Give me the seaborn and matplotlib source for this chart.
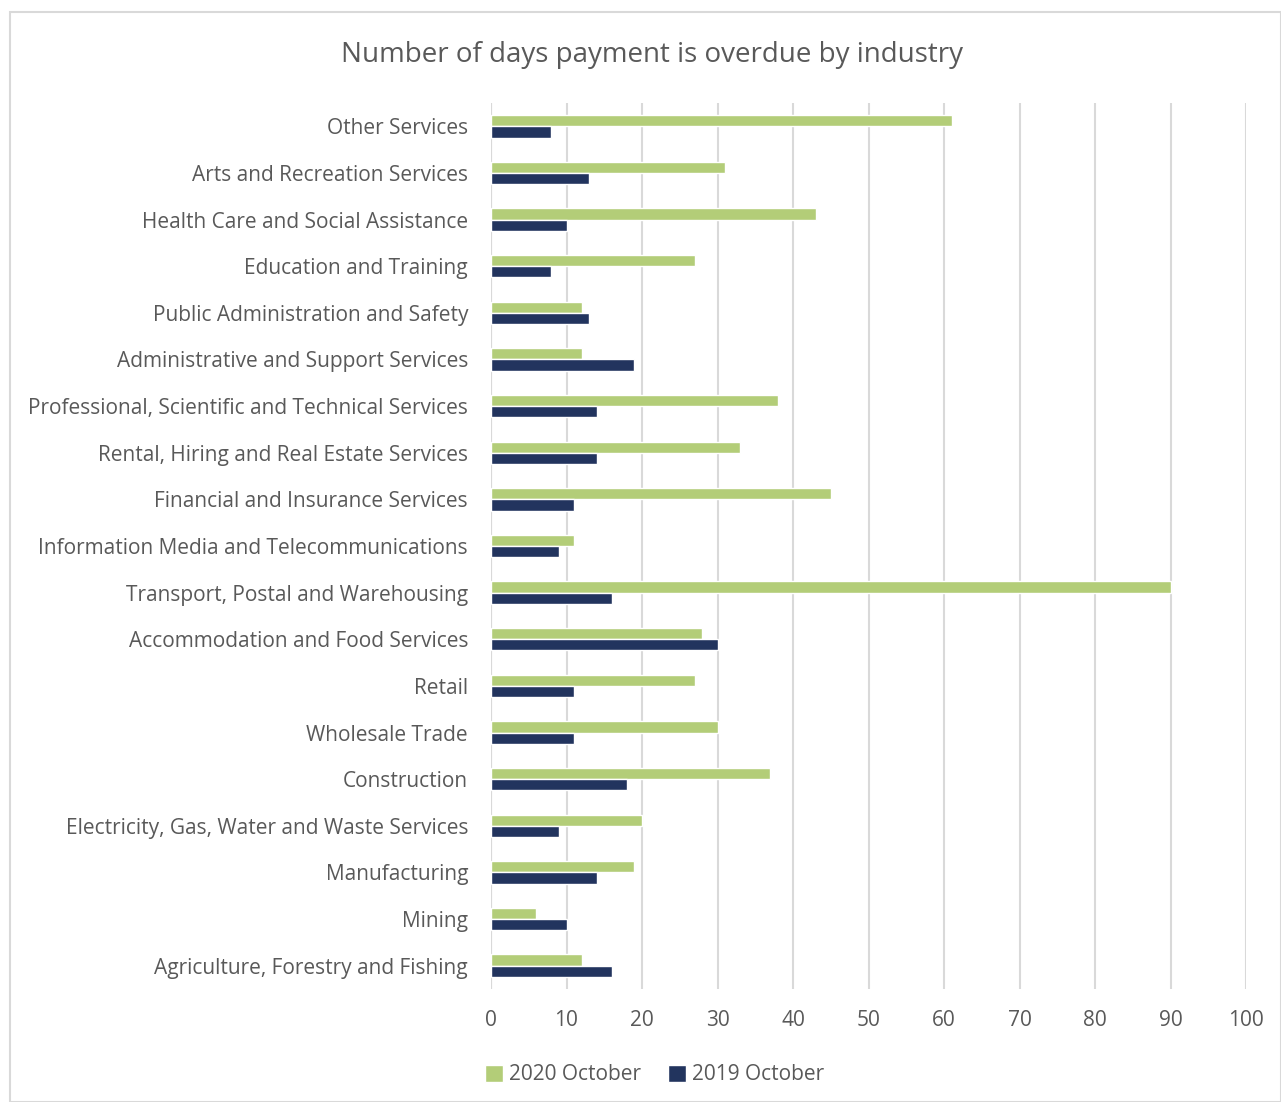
import matplotlib
matplotlib.use("Agg")
import matplotlib.pyplot as plt
import pandas as pd
import seaborn as sns

industries = [
    "Other Services",
    "Arts and Recreation Services",
    "Health Care and Social Assistance",
    "Education and Training",
    "Public Administration and Safety",
    "Administrative and Support Services",
    "Professional, Scientific and Technical Services",
    "Rental, Hiring and Real Estate Services",
    "Financial and Insurance Services",
    "Information Media and Telecommunications",
    "Transport, Postal and Warehousing",
    "Accommodation and Food Services",
    "Retail",
    "Wholesale Trade",
    "Construction",
    "Electricity, Gas, Water and Waste Services",
    "Manufacturing",
    "Mining",
    "Agriculture, Forestry and Fishing",
]
oct_2020 = [61, 31, 43, 27, 12, 12, 38, 33, 45, 11, 90, 28, 27, 30, 37, 20, 19, 6, 12]
oct_2019 = [8, 13, 10, 8, 13, 19, 14, 14, 11, 9, 16, 30, 11, 11, 18, 9, 14, 10, 16]
series = ["2020 October", "2019 October"]
colors = ["#b3cd78", "#22345e"]
xticks = list(range(0, 101, 10))

df = pd.concat([
    pd.DataFrame({"industry": industries, "days": oct_2020, "period": series[0]}),
    pd.DataFrame({"industry": industries, "days": oct_2019, "period": series[1]}),
])

sns.set_style("white")
plt.rcParams["font.family"] = ["Open Sans", "DejaVu Sans"]
text_color = "#595959"

fig = plt.figure(figsize=(12.81, 11.02), dpi=100)
ax = fig.add_axes([491 / 1281, 1 - 989 / 1102, 755 / 1281, 886 / 1102])

sns.barplot(data=df, y="industry", x="days", hue="period", hue_order=series,
            order=industries, palette=colors, orient="h", width=0.48,
            saturation=1, ax=ax, zorder=3)

ax.set_xlim(0, 100)
ax.set_ylim(len(industries) - 0.5, -0.5)
ax.set_xticks(xticks)
ax.set_xticklabels([str(t) for t in xticks])
ax.xaxis.grid(True, color="#d9d9d9", linewidth=1.5, zorder=0)
ax.set_axisbelow(True)
for s in ax.spines.values():
    s.set_visible(False)
ax.axvline(0, color="#d9d9d9", linewidth=1.5, zorder=1)
ax.tick_params(axis="both", length=0, labelsize=15, colors=text_color)
ax.tick_params(axis="y", pad=16.5)
ax.tick_params(axis="x", pad=15)
ax.set_xlabel("")
ax.set_ylabel("")

ax.legend(loc="center", bbox_to_anchor=(655 / 1281, 1 - 1075 / 1102),
          bbox_transform=fig.transFigure, ncol=2, frameon=False,
          fontsize=15, handlelength=0.85, handleheight=0.85,
          handletextpad=0.3, columnspacing=1.3, labelcolor=text_color)

fig.text(652 / 1281, 1 - 55 / 1102, "Number of days payment is overdue by industry",
         ha="center", va="center", fontsize=20, color=text_color)

fig.patches.append(plt.Rectangle((10 / 1281, 0), 1 - 10 / 1281, 1 - 12 / 1102,
                                 transform=fig.transFigure, fill=False,
                                 edgecolor="#d9d9d9", linewidth=1.5))

fig.savefig("out.png", dpi=100, facecolor="white")
